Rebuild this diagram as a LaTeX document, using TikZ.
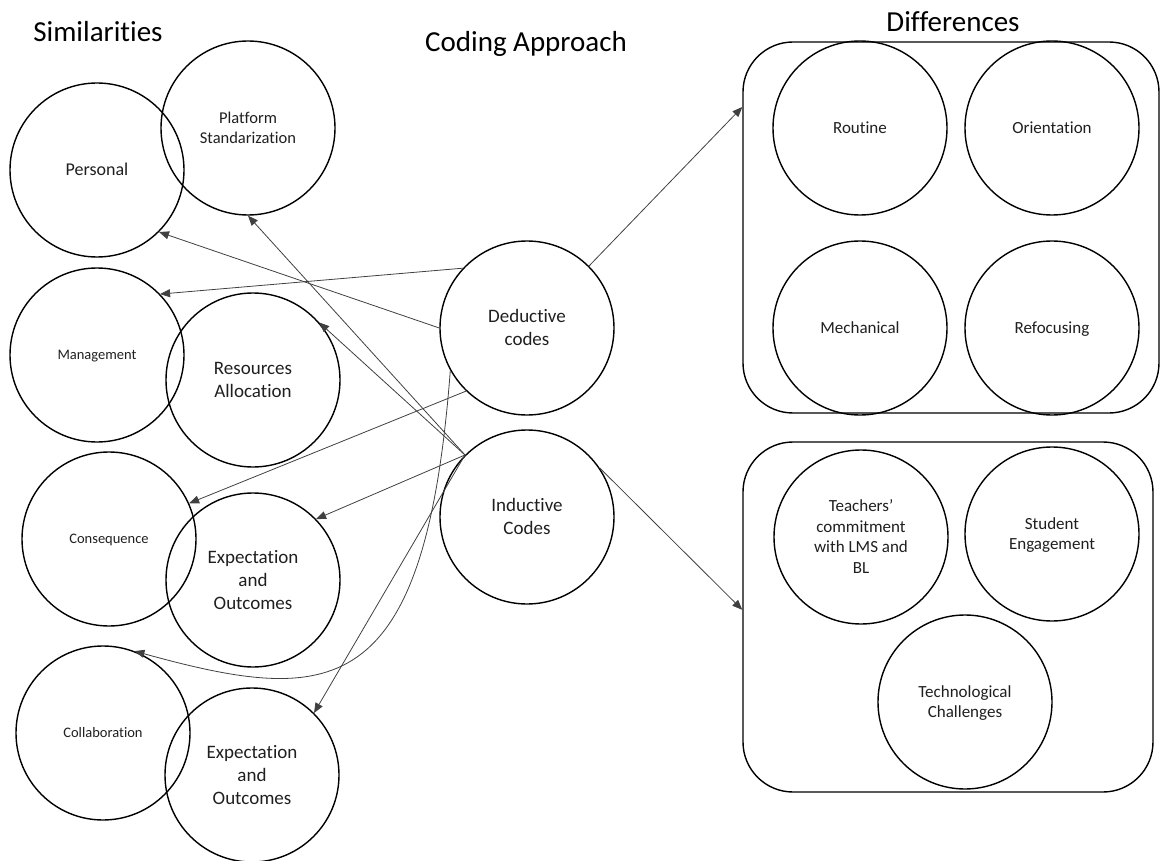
\documentclass[tikz,border=0pt]{standalone}
\usepackage{fontspec}
\setmainfont{Carlito}[Ligatures={NoCommon}]
\usetikzlibrary{arrows.meta}
\newcommand{\tst}{\rule[-0.24em]{0pt}{1.14em}}
\begin{document}
\begin{tikzpicture}[x=1pt,y=-1pt,
  circ/.style={circle,draw=black,line width=1.4pt,minimum size=174pt,inner sep=0pt,align=center,text=black!88},
  fa/.style={font=\fontsize{19}{23}\selectfont},
  fb/.style={font=\fontsize{17}{20.5}\selectfont},
  fc/.style={font=\fontsize{14.5}{17}\selectfont},
  fd/.style={font=\fontsize{16.5}{20}\selectfont},
  fe/.style={font=\fontsize{18}{21}\selectfont},
  title/.style={font=\fontsize{29}{34}\selectfont,anchor=base,inner sep=0pt},
  box/.style={draw=black,line width=1.4pt,rounded corners=50pt,inner sep=0pt},
  conn/.style={draw=black!75,line width=0.8pt,-{Triangle[length=10pt,width=8pt]}}
]
\useasboundingbox (0,0) rectangle (1160,861);

% titles
\node[title] (tsim) at (98,42) {Similarities};
\node[title] (tcod) at (526,52) {Coding Approach};
\node[title] (tdif) at (953,32) {Differences};

% right boxes
\node[box,minimum width=416pt,minimum height=371pt] (tbox) at (951,227.5) {};
\node[box,minimum width=410pt,minimum height=350pt] (bbox) at (948,617) {};

% left circles
\node[circ,fe] (pers) at (97,170) {\tst Personal};
\node[circ,fd] (plat) at (248,128) {\tst Platform\\Standarization\tst};
\node[circ,fc] (mana) at (97,355) {\tst Management};
\node[circ,fa] (reso) at (253,380) {\tst Resources\\Allocation\tst};
\node[circ,fc] (cons) at (109,539) {\tst Consequence};
\node[circ,fa] (exp1) at (253,580) {\tst Expectation\\and\\Outcomes\tst};
\node[circ,fc] (coll) at (103,733) {\tst Collaboration};
\node[circ,fa] (exp2) at (252,775) {\tst Expectation\\and\\Outcomes\tst};

% middle circles
\node[circ,fa] (ded) at (527,328) {\tst Deductive\\codes\tst};
\node[circ,fa] (ind) at (527,517) {\tst Inductive\\Codes\tst};

% right circles
\node[circ,fb] (rout) at (860,128) {\tst Routine};
\node[circ,fb] (orie) at (1052,128) {\tst Orientation};
\node[circ,fb] (mech) at (860,328) {\tst Mechanical};
\node[circ,fb] (refo) at (1052,328) {\tst Refocusing};
\node[circ,fb] (teac) at (861,537) {\tst Teachers’\\commitment\\with LMS and\\BL\tst};
\node[circ,fb] (stud) at (1052,534) {\tst Student\\Engagement\tst};
\node[circ,fb] (tech) at (965,702) {\tst Technological\\Challenges\tst};

% connectors from deductive codes
\draw[conn] (ded.180) -- (pers.-45);
\draw[conn] (ded.137) -- (mana.44);
\draw[conn] (ded.226) -- (cons.24);
\draw[conn] (ded.209) .. controls (425,705) and (330,705) .. (coll.69);
\draw[conn] (ded.45) -- (tbox.150);

% connectors from inductive codes
\draw[conn] (ind.135) -- (plat.270);
\draw[conn] (ind.135) -- (reso.41);
\draw[conn] (ind.135) -- (exp1.44);
\draw[conn] (ind.135) -- (exp2.45);
\draw[conn] (ind.34) -- (bbox.178.6);
\end{tikzpicture}
\end{document}
